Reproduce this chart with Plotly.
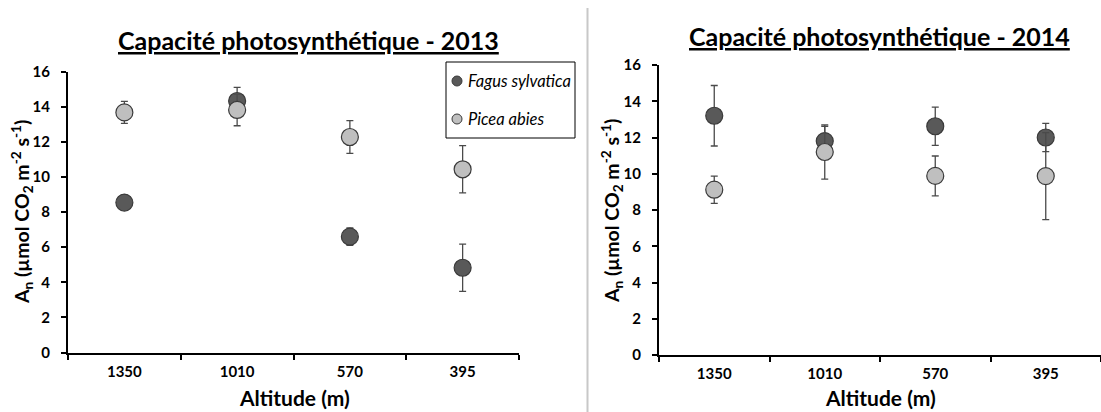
import plotly.graph_objects as go

altitudes = ["1350", "1010", "570", "395"]

fagus_2013 = [8.54, 14.33, 6.6, 4.83]
fagus_2013_err = [0.3, 0.78, 0.5, 1.35]
picea_2013 = [13.68, 13.82, 12.28, 10.44]
picea_2013_err = [0.63, 0.9, 0.93, 1.35]

fagus_2014 = [13.2, 11.8, 12.62, 12.0]
fagus_2014_err = [1.67, 0.82, 1.06, 0.78]
picea_2014 = [9.12, 11.2, 9.88, 9.87]
picea_2014_err = [0.75, 1.5, 1.1, 2.4]

y_ticks = [0, 2, 4, 6, 8, 10, 12, 14, 16]
legend_names = ["Fagus sylvatica", "Picea abies"]

W, H = 1101, 412
FONT = "Lato"
DARK = "#595959"
LIGHT = "#bfbfbf"
EDGE = "#3a3a3a"
ERR = "#4a4a4a"


def px_x(v):
    return v / W


def px_y(v):
    return 1 - v / H


fig = go.Figure()


def add_series(y, err, color, xa, ya):
    fig.add_trace(go.Scatter(
        x=altitudes, y=y, mode="markers", xaxis=xa, yaxis=ya,
        showlegend=False,
        marker=dict(size=17, color=color, line=dict(color=EDGE, width=1.2)),
        error_y=dict(type="data", array=err, visible=True, color=ERR,
                     thickness=1.3, width=3.5),
    ))


add_series(fagus_2013, fagus_2013_err, DARK, "x", "y")
add_series(picea_2013, picea_2013_err, LIGHT, "x", "y")
add_series(fagus_2014, fagus_2014_err, DARK, "x2", "y2")
add_series(picea_2014, picea_2014_err, LIGHT, "x2", "y2")

axis_common = dict(
    showgrid=False, zeroline=False, showline=True, linecolor="black",
    linewidth=2, ticks="outside", tickcolor="black", tickwidth=2, ticklen=5,
    automargin=False,
    tickfont=dict(family=FONT, size=15, color="black", weight="bold"),
)

fig.update_layout(
    width=W, height=H,
    margin=dict(l=0, r=0, t=0, b=0),
    plot_bgcolor="white", paper_bgcolor="white",
    font=dict(family=FONT, color="black"),
    showlegend=False,
    xaxis=dict(domain=[px_x(68), px_x(519)], anchor="y", type="category",
               range=[-0.5, 3.5], tickson="boundaries", ticklabelstandoff=4,
               **axis_common),
    yaxis=dict(domain=[px_y(352.5), px_y(71.7)], anchor="x", range=[0, 16],
               tickvals=y_ticks, ticklabelstandoff=8, **axis_common),
    xaxis2=dict(domain=[px_x(659), px_x(1101)], anchor="y2", type="category",
                range=[-0.5, 3.5], tickson="boundaries", ticklabelstandoff=4,
                **axis_common),
    yaxis2=dict(domain=[px_y(355), px_y(65)], anchor="x2", range=[0, 16],
                tickvals=y_ticks, ticklabelstandoff=8, **axis_common),
)

title_font = dict(family=FONT, size=25, color="black")
label_font = dict(family=FONT, size=21, color="black")
ylabel_font = dict(family=FONT, size=19.5, color="black")
ytitle = "<b>A<sub>n</sub> (µmol CO<sub>2</sub> m<sup>-2</sup> s<sup>-1</sup>)</b>"

annotations = [
    dict(text="<b><u>Capacité photosynthétique - 2013</u></b>", x=px_x(308), y=px_y(40),
         font=title_font),
    dict(text="<b><u>Capacité photosynthétique - 2014</u></b>", x=px_x(879), y=px_y(36),
         font=title_font),
    dict(text=ytitle, x=px_x(22), y=px_y(212), textangle=-90, font=ylabel_font),
    dict(text=ytitle, x=px_x(612), y=px_y(211), textangle=-90, font=ylabel_font),
    dict(text="<b>Altitude (m)</b>", x=px_x(294), y=px_y(397), font=label_font),
    dict(text="<b>Altitude (m)</b>", x=px_x(880), y=px_y(397), font=label_font),
]
for a in annotations:
    a.update(xanchor="center", yanchor="middle")

# manual legend (box, symbols, labels)
leg_left, leg_right, leg_top, leg_bottom = 446, 575, 62, 138
leg_rows = [81, 119]
leg_colors = [DARK, LIGHT]
fig.add_shape(type="rect", xref="paper", yref="paper",
              x0=px_x(leg_left), x1=px_x(leg_right), y0=px_y(leg_bottom), y1=px_y(leg_top),
              line=dict(color="black", width=1), fillcolor="white", layer="above")
for name, color, yy in zip(legend_names, leg_colors, leg_rows):
    fig.add_shape(type="circle", xref="paper", yref="paper",
                  x0=px_x(452), x1=px_x(462), y0=px_y(yy + 5), y1=px_y(yy - 5),
                  line=dict(color=EDGE, width=1), fillcolor=color, layer="above")
    annotations.append(dict(text=f"<i>{name}</i>", x=px_x(466), y=px_y(yy),
                            xanchor="left", yanchor="middle",
                            font=dict(family=FONT, size=16.5, color="black")))

for a in annotations:
    a.update(xref="paper", yref="paper", showarrow=False)
fig.update_layout(annotations=annotations)

fig.add_shape(type="line", xref="paper", yref="paper",
              x0=px_x(587.5), x1=px_x(587.5), y0=0, y1=px_y(8),
              line=dict(color="#c8c8c8", width=2))

fig.write_html("out.html")
